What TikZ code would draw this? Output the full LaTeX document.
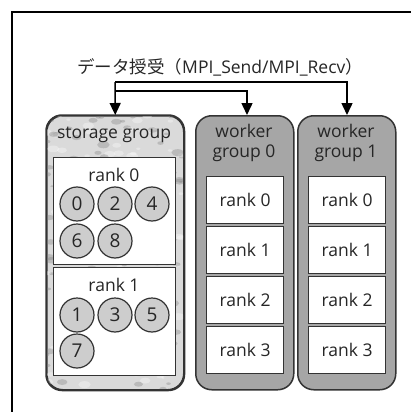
\documentclass[tikz,border=0pt]{standalone}
\usepackage{fontspec}
\setmainfont{Open Sans}
\newfontfamily\cjk{Noto Sans CJK JP}
\usetikzlibrary{arrows.meta}
\definecolor{edge}{HTML}{333333}
\definecolor{stfill}{HTML}{DADADA}
\definecolor{wkfill}{HTML}{A6A6A6}
\definecolor{cfill}{HTML}{CDCDCD}
\tikzset{
  grp/.style={draw=edge, line width=1.5pt, rounded corners=16pt, anchor=north west, inner sep=0pt},
  rbox/.style={draw=edge, fill=white, line width=1.4pt, anchor=north west, inner sep=0pt},
  txt/.style={font=\fontsize{17.5}{20}\selectfont, text=black!85, inner sep=0pt},
  num/.style={circle, draw=edge, fill=cfill, line width=1.2pt, minimum size=34pt, inner sep=0pt, font=\fontsize{19}{20}\selectfont, text=black!85},
  conn/.style={line width=1.5pt, draw=black},
  tip/.style={-{Triangle[width=11pt,length=12pt]}}
}
\begin{document}
\begin{tikzpicture}[x=1pt,y=-1pt]
\useasboundingbox (0,0) rectangle (411,412);
\fill[white] (0,0) rectangle (411,412);
\draw[line width=1.2pt] (12,412) -- (12,12) -- (411,12);
% title
\node[txt, font=\fontsize{17.5}{20}\selectfont, anchor=west] (title) at (77,67) {{\cjk データ授受（}MPI\_Send/MPI\_Recv{\cjk ）}};
% groups
\node[grp, fill=stfill, minimum width=137pt, minimum height=274pt] (sg) at (46,115) {};
\begin{scope}
  \clip[rounded corners=16pt] (46,115) rectangle (183,389);
  \pgfmathsetseed{11}
  \foreach \i in {1,...,260}{
    \pgfmathsetmacro{\px}{46+137*rnd}
    \pgfmathsetmacro{\py}{115+274*rnd}
    \pgfmathsetmacro{\pr}{1+2.5*rnd}
    \pgfmathsetmacro{\pc}{rnd>0.5 ? 100 : 0}
    \fill[white!\pc!gray, opacity=0.35] (\px,\py) ellipse ({\pr*1.8} and \pr);
  }
\end{scope}
\draw[draw=edge, line width=1.5pt, rounded corners=16pt] (sg.north west) rectangle (sg.south east);
\node[grp, fill=wkfill, minimum width=98pt, minimum height=274pt] (wg0) at (195,115) {};
\node[grp, fill=wkfill, minimum width=98pt, minimum height=274pt] (wg1) at (297,115) {};
\node[txt] (sgt) at (114,135) {storage group};
\node[txt] (w0a) at (244,131) {worker};
\node[txt] (w0b) at (244,153) {group 0};
\node[txt] (w1a) at (346,131) {worker};
\node[txt] (w1b) at (346,153) {group 1};
% storage ranks
\node[rbox, minimum width=122pt, minimum height=107pt] (sr0) at (53,157) {};
\node[rbox, minimum width=122pt, minimum height=108pt] (sr1) at (53,267) {};
\node[txt] (sr0t) at (114,175) {rank 0};
\node[txt] (sr1t) at (114,285) {rank 1};
\node[num] (c0) at (77,204) {0};
\node[num] (c2) at (115,204) {2};
\node[num] (c4) at (152,204) {4};
\node[num] (c6) at (77,241) {6};
\node[num] (c8) at (115,241) {8};
\node[num] (c1) at (77,315) {1};
\node[num] (c3) at (115,315) {3};
\node[num] (c5) at (152,315) {5};
\node[num] (c7) at (77,351) {7};
% worker ranks
\foreach \g/\x in {0/206,1/308}{
  \foreach \r/\y in {0/176,1/226,2/276,3/326}{
    \node[rbox, minimum width=77pt, minimum height=47pt] (w\g r\r) at (\x,\y) {};
    \node[txt] (w\g r\r t) at (w\g r\r.center) {rank \r};
  }
}
% connectors
\coordinate (j1) at (115,82);
\coordinate (j2) at (347,82);
\coordinate (j3) at (115,91);
\coordinate (j4) at (247,91);
\draw[conn, tip] (j1) -- (sg.north);
\draw[conn, tip] (j1) -- (j2) -- (j2 |- wg1.north);
\draw[conn, tip] (j3) -- (j4) -- (j4 |- wg0.north);
\end{tikzpicture}
\end{document}
